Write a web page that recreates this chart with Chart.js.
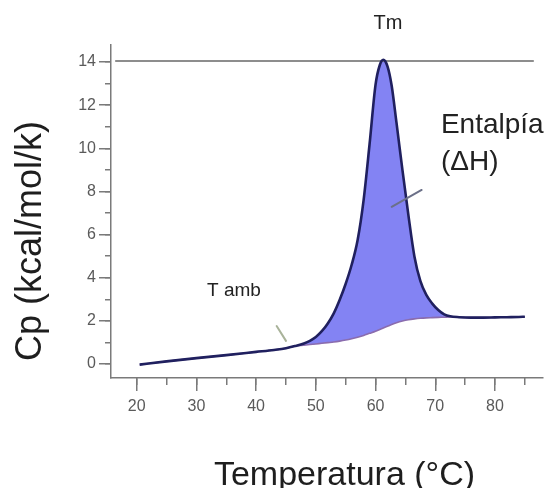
<!DOCTYPE html>
<html>
<head>
<meta charset="utf-8">
<script src="https://cdn.jsdelivr.net/npm/chart.js@4/dist/chart.umd.min.js"></script>
<style>
  html, body { margin: 0; padding: 0; background: #fff; }
  #c { display: block; }
</style>
</head>
<body>
<canvas id="c" width="547" height="488"></canvas>
<script>
// ---- Data ----
const temps = [20.5, 25, 30, 35, 40, 43, 45, 46.5, 48, 49, 50, 51, 52, 53, 54, 55, 56, 57, 58, 59, 60, 60.7, 61.3, 62, 62.7, 63.5, 64.5, 65.5, 66.5, 67.5, 68.5, 69.5, 70.5, 71.5, 72.5, 74, 76, 78, 80, 82, 84, 85];
const cpUpper = [-0.03, 0.12, 0.27, 0.41, 0.56, 0.65, 0.73, 0.83, 0.95, 1.07, 1.25, 1.52, 1.88, 2.35, 2.98, 3.72, 4.6, 5.75, 7.6, 10.2, 12.95, 13.85, 14.1, 13.8, 12.9, 11.2, 9.0, 6.9, 5.0, 3.85, 3.2, 2.8, 2.5, 2.3, 2.21, 2.17, 2.15, 2.15, 2.16, 2.17, 2.18, 2.19];
const cpBaseline = [-0.03, 0.12, 0.27, 0.41, 0.56, 0.65, 0.73, 0.83, 0.87, 0.9, 0.93, 0.96, 0.99, 1.02, 1.06, 1.11, 1.17, 1.24, 1.32, 1.42, 1.52, 1.6, 1.67, 1.75, 1.83, 1.91, 1.99, 2.05, 2.09, 2.12, 2.14, 2.15, 2.16, 2.17, 2.18, 2.17, 2.15, 2.15, 2.16, 2.17, 2.18, 2.19];
const tmLineX = [16.4, 86.5];
const tmLineY = [14.05, 14.05];
const xTickValues = [20, 30, 40, 50, 60, 70, 80];
const xMinorTickValues = [20, 25, 30, 35, 40, 45, 50, 55, 60, 65, 70, 75, 80, 85];
const yTickValues = [0, 2, 4, 6, 8, 10, 12, 14];
const yMinorTickValues = [0, 1, 2, 3, 4, 5, 6, 7, 8, 9, 10, 11, 12, 13, 14];
const xTitle = 'Temperatura (°C)';
const yTitle = 'Cp (kcal/mol/k)';
const labelTm = 'Tm';
const labelTamb = 'T amb';
const labelEnth1 = 'Entalpía';
const labelEnth2 = '(ΔH)';

// ---- Styling / layout ----
const X_MIN = 15.7, X_MAX = 88.04;
const Y_MIN = -0.65, Y_MAX = 14.79;
const FONT = '"Liberation Sans", Arial, "DejaVu Sans", sans-serif';
const AXIS_COLOR = '#7a7a7a';

const toPts = (xs, ys) => xs.map((v, i) => ({ x: v, y: ys[i] }));

const annotations = {
  id: 'annotations',
  afterDraw(chart) {
    const { ctx, scales } = chart;
    const x = scales.x, y = scales.y;
    const px = v => x.getPixelForValue(v);
    const py = v => y.getPixelForValue(v);
    ctx.save();
    // leader lines
    ctx.lineCap = 'round';
    ctx.lineWidth = 2;
    ctx.strokeStyle = '#6b7088';
    ctx.beginPath();
    ctx.moveTo(px(67.72), py(8.07));
    ctx.lineTo(px(62.7), py(7.29));
    ctx.stroke();
    ctx.strokeStyle = '#a9b39a';
    ctx.beginPath();
    ctx.moveTo(px(43.44), py(1.76));
    ctx.lineTo(px(45.0), py(1.07));
    ctx.stroke();

    ctx.fillStyle = '#222';
    // Tm
    ctx.font = '20px ' + FONT;
    ctx.textAlign = 'center';
    ctx.textBaseline = 'middle';
    ctx.fillText(labelTm, px(62.08), py(15.81));
    // T amb
    ctx.font = '19px ' + FONT;
    ctx.fillText(labelTamb, px(36.29), py(3.38));
    // Entalpía
    ctx.font = '28px ' + FONT;
    ctx.textAlign = 'left';
    ctx.textBaseline = 'alphabetic';
    ctx.fillText(labelEnth1, px(70.95), py(10.71));
    ctx.fillText(labelEnth2, px(70.95), py(8.99));

    // axis titles
    ctx.fillStyle = '#1e1e1e';
    ctx.font = '34px ' + FONT;
    ctx.textAlign = 'center';
    ctx.textBaseline = 'alphabetic';
    ctx.fillText(xTitle, px(54.8), 485);
    ctx.save();
    ctx.translate(41, py(5.7));
    ctx.rotate(-Math.PI / 2);
    ctx.font = '36px ' + FONT;
    ctx.fillText(yTitle, 0, 0);
    ctx.restore();
    ctx.restore();
  }
};

const tickFont = { family: FONT, size: 16 };

new Chart(document.getElementById('c'), {
  type: 'line',
  data: {
    datasets: [
      {
        label: 'Cp',
        data: toPts(temps, cpUpper),
        borderColor: '#20205f',
        borderWidth: 2.6,
        backgroundColor: '#8383f3',
        fill: 1,
        pointRadius: 0,
        cubicInterpolationMode: 'monotone'
      },
      {
        label: 'Línea base',
        data: toPts(temps, cpBaseline),
        borderColor: '#8a6cae',
        borderWidth: 1.6,
        fill: false,
        pointRadius: 0,
        cubicInterpolationMode: 'monotone'
      },
      {
        label: 'Tm',
        data: toPts(tmLineX, tmLineY),
        borderColor: '#8d8d8d',
        borderWidth: 2,
        fill: false,
        pointRadius: 0
      }
    ]
  },
  options: {
    responsive: false,
    animation: false,
    devicePixelRatio: 1,
    layout: { padding: { top: 45, right: 4, left: 0, bottom: 0 } },
    plugins: {
      legend: { display: false },
      tooltip: { enabled: false },
      filler: { drawTime: 'beforeDatasetsDraw' }
    },
    scales: {
      x: {
        type: 'linear', position: 'bottom', weight: 1,
        min: X_MIN, max: X_MAX,
        afterBuildTicks: s => { s.ticks = xTickValues.map(v => ({ value: v })); },
        afterFit: s => { s.height = 110; },
        grid: { drawOnChartArea: false, drawTicks: true, tickLength: 13, color: AXIS_COLOR, lineWidth: 1.5 },
        border: { display: true, color: AXIS_COLOR, width: 1.5 },
        ticks: { font: tickFont, color: '#5a5a5a', padding: 6, maxRotation: 0, autoSkip: false }
      },
      xMinor: {
        type: 'linear', position: 'bottom', weight: 0,
        min: X_MIN, max: X_MAX,
        afterBuildTicks: s => { s.ticks = xMinorTickValues.map(v => ({ value: v })); },
        afterFit: s => { s.height = 0; },
        grid: { drawOnChartArea: false, drawTicks: true, tickLength: 7, color: AXIS_COLOR, lineWidth: 1.5 },
        border: { display: false },
        ticks: { callback: () => '', autoSkip: false, padding: 0, font: { size: 1 } }
      },
      y: {
        type: 'linear', position: 'left', weight: 1,
        min: Y_MIN, max: Y_MAX,
        afterBuildTicks: s => { s.ticks = yTickValues.map(v => ({ value: v })); },
        afterFit: s => { s.width = 111; },
        grid: { drawOnChartArea: false, drawTicks: true, tickLength: 12, color: AXIS_COLOR, lineWidth: 1.5 },
        border: { display: true, color: AXIS_COLOR, width: 1.5 },
        ticks: { font: tickFont, color: '#5a5a5a', padding: 3, autoSkip: false }
      },
      yMinor: {
        type: 'linear', position: 'left', weight: 0,
        min: Y_MIN, max: Y_MAX,
        afterBuildTicks: s => { s.ticks = yMinorTickValues.map(v => ({ value: v })); },
        afterFit: s => { s.width = 0; },
        grid: { drawOnChartArea: false, drawTicks: true, tickLength: 6, color: AXIS_COLOR, lineWidth: 1.5 },
        border: { display: false },
        ticks: { callback: () => '', autoSkip: false, padding: 0, font: { size: 1 } }
      }
    }
  },
  plugins: [annotations]
});
</script>
</body>
</html>
